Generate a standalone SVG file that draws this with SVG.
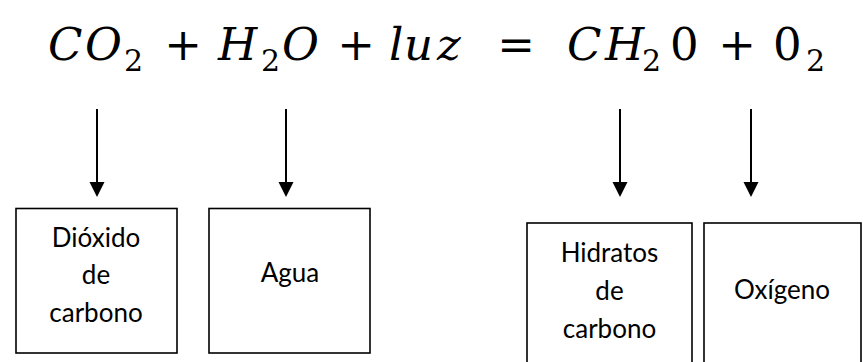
<svg xmlns="http://www.w3.org/2000/svg" width="863" height="362" viewBox="0 0 863 362">
<style>
.eq{font-family:"DejaVu Serif","Liberation Serif",serif;font-size:45px;fill:#000}
.it{font-style:italic}
.sub{font-size:30px}
.box{fill:#fff;stroke:#000;stroke-width:1.6}
.lbl{font-family:Lato,"Open Sans","Liberation Sans",sans-serif;font-size:26px;fill:#000;text-anchor:middle}
.conn{stroke:#000;stroke-width:2;fill:none}
</style>
<defs>
<marker id="ah" markerUnits="userSpaceOnUse" markerWidth="16" markerHeight="16" refX="8" refY="7.5" orient="auto" viewBox="0 0 16 15">
<path d="M0,0 L15,7.5 L0,15 z" fill="#000"/>
</marker>
</defs>
<rect width="863" height="362" fill="#fff"/>
<g id="equation">
<text class="eq"><tspan class="it" x="48" y="60">C</tspan><tspan class="it" x="85" y="60">O</tspan><tspan class="sub" x="124" y="71">2</tspan></text>
<text class="eq" x="183" y="60" text-anchor="middle">+</text>
<text class="eq"><tspan class="it" x="218" y="60">H</tspan><tspan class="sub" x="261" y="71">2</tspan><tspan class="it" x="282" y="60">O</tspan></text>
<text class="eq" x="356" y="60" text-anchor="middle">+</text>
<text class="eq it"><tspan x="389" y="60">l</tspan><tspan x="404" y="60">u</tspan><tspan x="437" y="60">z</tspan></text>
<text class="eq" x="516" y="60" text-anchor="middle">=</text>
<text class="eq"><tspan class="it" x="567" y="60">C</tspan><tspan class="it" x="605" y="60">H</tspan><tspan class="sub" x="642" y="71">2</tspan><tspan x="670" y="60">0</tspan></text>
<text class="eq" x="737" y="60" text-anchor="middle">+</text>
<text class="eq"><tspan x="773" y="60">0</tspan><tspan class="sub" x="806" y="71">2</tspan></text>
</g>
<g id="connectors">
<line class="conn" x1="97" y1="109" x2="97" y2="190" marker-end="url(#ah)"/>
<line class="conn" x1="286" y1="109" x2="286" y2="190" marker-end="url(#ah)"/>
<line class="conn" x1="620" y1="109" x2="620" y2="190" marker-end="url(#ah)"/>
<line class="conn" x1="751" y1="109" x2="751" y2="190" marker-end="url(#ah)"/>
</g>
<g id="dioxido">
<rect class="box" x="16" y="208.5" width="161" height="144.5"/>
<text class="lbl" x="96" y="247">Dióxido</text>
<text class="lbl" x="96" y="284">de</text>
<text class="lbl" x="96" y="322">carbono</text>
</g>
<g id="agua">
<rect class="box" x="209" y="208.5" width="161" height="144.5"/>
<text class="lbl" x="290" y="282">Agua</text>
</g>
<g id="hidratos">
<rect class="box" x="527" y="223" width="165" height="160"/>
<text class="lbl" x="609.5" y="262">Hidratos</text>
<text class="lbl" x="609.5" y="300">de</text>
<text class="lbl" x="609.5" y="338">carbono</text>
</g>
<g id="oxigeno">
<rect class="box" x="704" y="223" width="157" height="160"/>
<text class="lbl" x="782" y="299">Oxígeno</text>
</g>
</svg>
